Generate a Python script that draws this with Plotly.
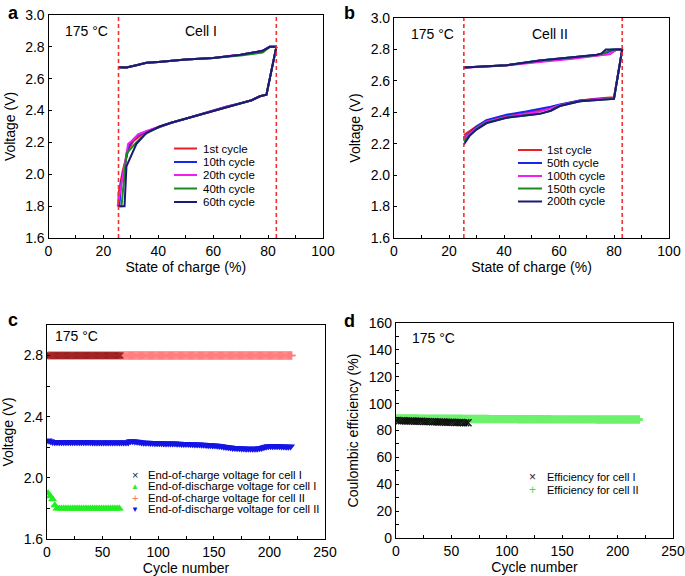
import plotly.graph_objects as go

FONT = "Liberation Sans, Arial, Helvetica, sans-serif"

# ---------------- Panel a (Cell I) ----------------
a_cutoff_soc = [25.5, 83]
a_cycles = ["1st cycle", "10th cycle", "20th cycle", "40th cycle", "60th cycle"]
a_colors = ["#ee1c25", "#1428f0", "#f01ef0", "#1a8a1a", "#1a1a78"]
a_upper_soc = [83, 80.6, 78, 70, 60, 50, 40, 35.7, 32, 28.4, 25.5]
a_upper_v = [2.80, 2.80, 2.775, 2.75, 2.73, 2.72, 2.705, 2.70, 2.685, 2.67, 2.672]
a_upper_v_green = [2.80, 2.80, 2.765, 2.745, 2.73, 2.72, 2.705, 2.70, 2.685, 2.67, 2.672]
a_head_soc_1 = [25.5, 25.5, 27.0, 29.0, 31.0, 34.0, 37.0]
a_head_v_1 = [1.80, 1.88, 2.02, 2.15, 2.21, 2.25, 2.275]
a_head_soc_10 = [25.8, 26.5, 29.3, 31.0, 33.0, 36.0]
a_head_v_10 = [1.80, 1.95, 2.18, 2.22, 2.25, 2.27]
a_head_soc_20 = [25.2, 29.0, 31.0, 32.6, 35.5]
a_head_v_20 = [1.80, 2.19, 2.22, 2.25, 2.27]
a_head_soc_40 = [25.8, 26.6, 28.4, 32.0, 35.0, 38.0]
a_head_v_40 = [1.80, 1.80, 2.13, 2.20, 2.25, 2.28]
a_head_soc_60 = [25.2, 27.7, 28.4, 30.0, 32.0, 35.7, 38.0]
a_head_v_60 = [1.80, 1.80, 2.05, 2.11, 2.19, 2.26, 2.28]
a_tail_soc = [40.5, 45, 50.2, 55, 60, 65, 69.7, 74, 77, 79.4, 83]
a_tail_v = [2.30, 2.325, 2.35, 2.375, 2.40, 2.425, 2.445, 2.465, 2.49, 2.50, 2.80]

# ---------------- Panel b (Cell II) ----------------
b_cutoff_soc = [25.4, 83]
b_cycles = ["1st cycle", "50th cycle", "100th cycle", "150th cycle", "200th cycle"]
b_colors = a_colors
b_upper_soc_1 = [83, 81, 78.5, 73.7, 65, 53, 40.9, 30, 25.4]
b_upper_v_1 = [2.80, 2.80, 2.77, 2.762, 2.745, 2.725, 2.70, 2.69, 2.685]
b_upper_soc_50 = [83, 80, 77.5, 73.7, 65, 53, 40.9, 30, 25.4]
b_upper_v_50 = [2.80, 2.80, 2.78, 2.764, 2.75, 2.73, 2.70, 2.69, 2.685]
b_upper_soc_100 = [83, 81, 78.5, 73.7, 65, 53, 40.9, 30, 25.4]
b_upper_v_100 = [2.80, 2.80, 2.77, 2.758, 2.74, 2.72, 2.698, 2.688, 2.683]
b_upper_soc_150 = [83, 79, 76.5, 73.7, 65, 53, 40.9, 30, 25.4]
b_upper_v_150 = [2.80, 2.80, 2.778, 2.764, 2.75, 2.73, 2.70, 2.69, 2.685]
b_upper_soc_200 = [83, 77, 75.5, 73.7, 65, 53, 40.9, 30, 25.4]
b_upper_v_200 = [2.80, 2.80, 2.775, 2.766, 2.75, 2.73, 2.70, 2.69, 2.685]
b_lower_soc = [25.4, 27.5, 30, 33.6, 40.9, 48, 53, 57, 60.3, 67.6, 75, 80, 83]
b_lower_v_1 = [2.255, 2.28, 2.31, 2.345, 2.375, 2.395, 2.41, 2.425, 2.445, 2.475, 2.49, 2.495, 2.80]
b_lower_v_50 = [2.235, 2.27, 2.31, 2.35, 2.385, 2.405, 2.42, 2.435, 2.45, 2.475, 2.485, 2.49, 2.80]
b_lower_v_100 = [2.225, 2.265, 2.30, 2.34, 2.37, 2.39, 2.405, 2.425, 2.445, 2.47, 2.485, 2.49, 2.80]
b_lower_v_150 = [2.215, 2.255, 2.295, 2.335, 2.365, 2.38, 2.39, 2.41, 2.44, 2.47, 2.48, 2.485, 2.80]
b_lower_v_200 = [2.195, 2.25, 2.29, 2.33, 2.365, 2.38, 2.39, 2.41, 2.44, 2.47, 2.48, 2.485, 2.80]

# ---------------- Panel c (end voltages) ----------------
c_charge_cycles_I = list(range(1, 67))
c_charge_I = [2.80] * len(c_charge_cycles_I)        # charge cut-off voltage
c_charge_cycles_II = list(range(1, 221))
c_charge_II = [2.80] * len(c_charge_cycles_II)      # charge cut-off voltage
c_cycles_I = list(range(1, 67, 2))
c_discharge_I = [1.90, 1.88, 1.86, 1.82, 1.80, 1.80, 1.80, 1.80, 1.80, 1.80, 1.80,
                 1.80, 1.80, 1.80, 1.80, 1.80, 1.80, 1.80, 1.80, 1.80, 1.80, 1.80,
                 1.80, 1.80, 1.80, 1.80, 1.80, 1.80, 1.80, 1.80, 1.80, 1.80, 1.80]
c_cycles_II = list(range(1, 221, 2))
c_discharge_II = [
    2.245, 2.24, 2.235, 2.233, 2.233, 2.233, 2.233, 2.233, 2.233, 2.233,
    2.233, 2.233, 2.233, 2.233, 2.233, 2.233, 2.233, 2.233, 2.233, 2.233,
    2.232, 2.232, 2.232, 2.232, 2.232, 2.232, 2.232, 2.232, 2.232, 2.232,
    2.232, 2.232, 2.232, 2.232, 2.232, 2.232, 2.232, 2.240, 2.240, 2.238,
    2.236, 2.234, 2.232, 2.230, 2.230, 2.229, 2.228, 2.228, 2.227, 2.227,
    2.226, 2.226, 2.225, 2.225, 2.225, 2.224, 2.224, 2.224, 2.223, 2.223,
    2.222, 2.222, 2.221, 2.221, 2.220, 2.220, 2.219, 2.219, 2.218, 2.217,
    2.216, 2.215, 2.214, 2.213, 2.212, 2.211, 2.210, 2.208, 2.206, 2.204,
    2.202, 2.200, 2.198, 2.196, 2.195, 2.194, 2.193, 2.192, 2.192, 2.191,
    2.191, 2.190, 2.190, 2.190, 2.191, 2.193, 2.196, 2.200, 2.204, 2.206,
    2.207, 2.207, 2.207, 2.206, 2.206, 2.205, 2.205, 2.204, 2.203, 2.205,
]

# ---------------- Panel d (Coulombic efficiency) ----------------
d_cycles_I = list(range(1, 66, 2))
d_eff_I = [87.4, 87.3, 87.2, 87.2, 87.1, 87.1, 87.0, 87.0, 86.9, 86.9, 86.8,
           86.8, 86.7, 86.7, 86.6, 86.6, 86.5, 86.5, 86.4, 86.4, 86.3, 86.3,
           86.2, 86.2, 86.1, 86.1, 86.0, 86.0, 85.9, 85.9, 85.8, 85.8, 85.7]
d_cycles_II = list(range(1, 221, 2))
d_eff_II = [
    89.0, 89.0, 88.9, 88.9, 88.9, 88.9, 88.9, 88.9, 88.9, 88.9,
    88.8, 88.8, 88.8, 88.8, 88.8, 88.8, 88.8, 88.8, 88.8, 88.8,
    88.7, 88.7, 88.7, 88.7, 88.7, 88.7, 88.7, 88.7, 88.7, 88.7,
    88.6, 88.6, 88.6, 88.6, 88.6, 88.6, 88.6, 88.6, 88.6, 88.6,
    88.6, 88.6, 88.5, 88.5, 88.5, 88.5, 88.5, 88.5, 88.5, 88.5,
    88.5, 88.5, 88.5, 88.5, 88.5, 88.4, 88.4, 88.4, 88.4, 88.4,
    88.4, 88.4, 88.4, 88.4, 88.4, 88.4, 88.4, 88.4, 88.4, 88.4,
    88.3, 88.3, 88.3, 88.3, 88.3, 88.3, 88.3, 88.3, 88.3, 88.3,
    88.3, 88.3, 88.3, 88.3, 88.3, 88.3, 88.3, 88.3, 88.3, 88.3,
    88.2, 88.2, 88.2, 88.2, 88.2, 88.2, 88.2, 88.2, 88.2, 88.2,
    88.2, 88.2, 88.2, 88.2, 88.2, 88.2, 88.2, 88.2, 88.2, 88.2,
]

c_legend = ["End-of-charge voltage for cell I", "End-of-discharge voltage for cell I",
            "End-of-charge voltage for cell II", "End-of-discharge voltage for cell II"]
d_legend = ["Efficiency for cell I", "Efficiency for cell II"]

fig = go.Figure()

def line(x, y, color, xa, ya, width=2):
    fig.add_trace(go.Scatter(x=x, y=y, mode="lines", xaxis=xa, yaxis=ya,
                             line=dict(color=color, width=width), showlegend=False,
                             hoverinfo="skip"))

# panel a
for ci, (c, col) in enumerate(zip(a_cycles, a_colors)):
    up_v = a_upper_v_green if ci == 3 else a_upper_v
    line(a_upper_soc, up_v, col, "x", "y")
heads_a = [(a_head_soc_1, a_head_v_1), (a_head_soc_10, a_head_v_10),
           (a_head_soc_20, a_head_v_20), (a_head_soc_40, a_head_v_40),
           (a_head_soc_60, a_head_v_60)]
for (hs, hv), col in zip(heads_a, a_colors):
    line(hs + a_tail_soc, hv + a_tail_v, col, "x", "y")

# panel b
ups_b = [(b_upper_soc_1, b_upper_v_1), (b_upper_soc_50, b_upper_v_50),
         (b_upper_soc_100, b_upper_v_100), (b_upper_soc_150, b_upper_v_150),
         (b_upper_soc_200, b_upper_v_200)]
lows_b = [b_lower_v_1, b_lower_v_50, b_lower_v_100, b_lower_v_150, b_lower_v_200]
for (us, uv), lv, col in zip(ups_b, lows_b, b_colors):
    line(us, uv, col, "x2", "y2")
    line(b_lower_soc, lv, col, "x2", "y2")

# dashed cut-off lines
for xa, ya, cut in (("x", "y", a_cutoff_soc), ("x2", "y2", b_cutoff_soc)):
    for s in cut:
        fig.add_trace(go.Scatter(x=[s, s], y=[1.6, 3.0], mode="lines", xaxis=xa, yaxis=ya,
                                 line=dict(color="#ee3333", width=1.6, dash="4px,3px"),
                                 showlegend=False, hoverinfo="skip"))

# panel c
fig.add_trace(go.Scatter(x=c_charge_cycles_I, y=c_charge_I, mode="markers", xaxis="x3", yaxis="y3",
                         marker=dict(symbol="x-thin", size=6, line=dict(color="#111111", width=1.4)),
                         name=c_legend[0], showlegend=False))
fig.add_trace(go.Scatter(x=c_charge_cycles_II, y=c_charge_II, mode="markers", xaxis="x3", yaxis="y3",
                         marker=dict(symbol="cross-thin", size=6, line=dict(color="#ff3030", width=1.4)),
                         opacity=0.62, name=c_legend[2], showlegend=False))
fig.add_trace(go.Scatter(x=c_cycles_I, y=c_discharge_I, mode="markers", xaxis="x3", yaxis="y3",
                         marker=dict(symbol="triangle-up", size=8, color="#22ee22"),
                         name=c_legend[1], showlegend=False))
fig.add_trace(go.Scatter(x=c_cycles_II, y=c_discharge_II, mode="markers", xaxis="x3", yaxis="y3",
                         marker=dict(symbol="triangle-down", size=8, color="#1414e6"),
                         name=c_legend[3], showlegend=False))

# panel d
fig.add_trace(go.Scatter(x=d_cycles_II, y=d_eff_II, mode="markers", xaxis="x4", yaxis="y4",
                         marker=dict(symbol="cross", size=7, color="#6cf26c"),
                         name=d_legend[1], showlegend=False))
fig.add_trace(go.Scatter(x=d_cycles_I, y=d_eff_I, mode="markers", xaxis="x4", yaxis="y4",
                         marker=dict(symbol="x-thin", size=7, line=dict(color="#111111", width=1.4)),
                         name=d_legend[0], showlegend=False))

W, H = 685, 576
def px(x0, x1):
    return [x0 / W, x1 / W]
def py(top, bottom):
    return [1 - bottom / H, 1 - top / H]

axis_common = dict(showline=True, linecolor="black", linewidth=1.2, mirror=True,
                   ticks="inside", ticklen=3, tickwidth=1, tickcolor="black",
                   showgrid=False, zeroline=False, automargin=False,
                   tickfont=dict(family=FONT, size=14, color="black"),
                   title_font=dict(family=FONT, size=14, color="black"))
minor_x = dict(ticks="inside", ticklen=3, tickcolor="black")

fig.update_layout(
    template="none",
    width=W, height=H, margin=dict(l=0, r=0, t=0, b=0, pad=0),
    paper_bgcolor="white", plot_bgcolor="white", showlegend=False,
    font=dict(family=FONT, color="black"),
    xaxis=dict(domain=px(48.5, 323), range=[0, 100], dtick=20,
               minor=dict(dtick=10, **minor_x),
               title=dict(text="State of charge (%)", standoff=4), anchor="y", **axis_common),
    yaxis=dict(domain=py(15, 238), range=[1.6, 3.0], dtick=0.2, tickformat=".1f",
               title=dict(text="Voltage (V)", standoff=6), anchor="x", **axis_common),
    xaxis2=dict(domain=px(394, 669), range=[0, 100], dtick=20,
                minor=dict(dtick=10, **minor_x),
                title=dict(text="State of charge (%)", standoff=4), anchor="y2", **axis_common),
    yaxis2=dict(domain=py(18, 238), range=[1.6, 3.0], dtick=0.2, tickformat=".1f",
                title=dict(text="Voltage (V)", standoff=6), anchor="x2", **axis_common),
    xaxis3=dict(domain=px(47, 325), range=[0, 250], dtick=50,
                minor=dict(dtick=25, **minor_x),
                title=dict(text="Cycle number", standoff=2), anchor="y3", **axis_common),
    yaxis3=dict(domain=py(325, 539), range=[1.6, 3.0], tickvals=[1.6, 2.0, 2.4, 2.8],
                tickformat=".1f",
                minor=dict(dtick=0.2, **minor_x),
                title=dict(text="Voltage (V)", standoff=6), anchor="x3", **axis_common),
    xaxis4=dict(domain=px(396, 673), range=[0, 250], dtick=50,
                minor=dict(dtick=25, **minor_x),
                title=dict(text="Cycle number", standoff=2), anchor="y4", **axis_common),
    yaxis4=dict(domain=py(323, 538), range=[0, 160], dtick=20,
                minor=dict(dtick=10, **minor_x),
                title=dict(text="Coulombic efficiency (%)", standoff=6), anchor="x4", **axis_common),
)

ann = []
def text(x, y, s, size=14, xanchor="left", bold=False, color="black"):
    ann.append(dict(x=x, y=y, xref="paper", yref="paper", text=(f"<b>{s}</b>" if bold else s),
                    showarrow=False, xanchor=xanchor, yanchor="middle", borderpad=0,
                    font=dict(family=FONT, size=size, color=color)))

# panel letters
text(7 / W, 1 - 13 / H, "a", size=18, bold=True)
text(343 / W, 1 - 13 / H, "b", size=18, bold=True)
text(7 / W, 1 - 320 / H, "c", size=18, bold=True)
text(343 / W, 1 - 321 / H, "d", size=18, bold=True)

# in-panel labels
text(64 / W, 1 - 31 / H, "175 °C", size=14)
text(184 / W, 1 - 31 / H, "Cell I", size=14)
text(410 / W, 1 - 34 / H, "175 °C", size=14)
text(531 / W, 1 - 34 / H, "Cell II", size=14)
text(54 / W, 1 - 336 / H, "175 °C", size=14)
text(411 / W, 1 - 338 / H, "175 °C", size=14)

shapes = []
# legend a
a_rows = [148.5, 162, 175, 188.5, 202]
for lab, col, r in zip(a_cycles, a_colors, a_rows):
    shapes.append(dict(type="line", xref="paper", yref="paper", x0=174 / W, x1=197 / W,
                       y0=1 - r / H, y1=1 - r / H, line=dict(color=col, width=2)))
    text(202 / W, 1 - r / H, lab, size=11.5)
# legend b
b_rows = [150, 163, 176, 188.5, 201.5]
for lab, col, r in zip(b_cycles, b_colors, b_rows):
    shapes.append(dict(type="line", xref="paper", yref="paper", x0=518 / W, x1=542 / W,
                       y0=1 - r / H, y1=1 - r / H, line=dict(color=col, width=2)))
    text(546 / W, 1 - r / H, lab, size=11.5)
# legend c
c_syms = ["×", "▲", "+", "▼"]
c_sym_colors = ["#222222", "#22ee22", "#ff7070", "#1414e6"]
c_sym_sizes = [11, 8, 11, 8]
c_rows = [475, 486, 497.5, 509]
for lab, sym, col, sz, r in zip(c_legend, c_syms, c_sym_colors, c_sym_sizes, c_rows):
    text(135 / W, 1 - r / H, sym, size=sz, xanchor="center", color=col)
    text(147 / W, 1 - r / H, lab, size=11.3)
# legend d
d_syms = ["×", "+"]
d_sym_colors = ["#222222", "#44dd44"]
d_rows = [477, 490]
for lab, sym, col, r in zip(d_legend, d_syms, d_sym_colors, d_rows):
    text(532 / W, 1 - r / H, sym, size=12, xanchor="center", color=col)
    text(546 / W, 1 - r / H, lab, size=11)

fig.update_layout(annotations=ann, shapes=shapes)
fig.write_html("out.html", config={"displayModeBar": False},
               post_script="document.body.style.margin='0';document.body.style.overflow='hidden';")
